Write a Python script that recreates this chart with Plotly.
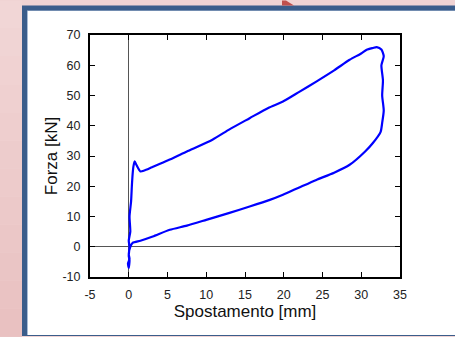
import plotly.graph_objects as go

# Displacement [mm] and force [kN] read along the loop
spostamento = [0.0, 0.1, 0.0, 0.2, 0.1, 0.3, 0.4, 0.5, 0.6, 0.77, 1.0, 1.5, 2.0, 3.0, 5.0, 7.5,
               10.8, 13.0, 15.6, 18.0, 19.9, 22.0, 24.2, 26.5, 28.5, 30.0, 30.7, 31.5, 32.0,
               32.6, 32.9, 32.6, 32.8, 32.7, 32.9, 32.7, 32.5, 31.5, 30.5, 28.5, 26.5, 24.2,
               22.0, 19.9, 18.2, 15.6, 13.0, 10.0, 7.5, 5.3, 3.1, 1.5, 0.5, 0.2, 0.0, 0.1,
               -0.1, 0.0, 0.1, 0.0]
forza = [-3.0, 0.0, 2.0, 5.0, 10.0, 15.0, 20.0, 24.0, 26.5, 28.2, 27.0, 24.9, 25.2, 26.3, 28.5,
         31.5, 35.4, 38.8, 42.5, 45.9, 48.0, 51.2, 54.6, 58.3, 61.8, 63.9, 65.1, 65.7, 66.0,
         65.2, 63.0, 60.0, 55.0, 50.0, 45.0, 41.0, 38.0, 34.3, 31.5, 27.1, 24.5, 22.1,
         19.6, 17.2, 15.5, 13.3, 11.2, 8.9, 7.0, 5.6, 3.4, 2.0, 1.3, 0.0, -2.5, -4.0,
         -5.5, -7.0, -4.5, -3.0]

x_ticks = [-5, 0, 5, 10, 15, 20, 25, 30, 35]
y_ticks = [-10, 0, 10, 20, 30, 40, 50, 60, 70]

W, H = 455, 337
L, R, T, B = 90, 400, 34.5, 277

def px(xp):
    return (xp - L) / (R - L)

def py(yp):
    return (B - yp) / (B - T)

fig = go.Figure()
fig.add_trace(go.Scatter(x=spostamento, y=forza, mode="lines",
                         line=dict(color="#0000ff", width=2.2, shape="spline", smoothing=0.6),
                         showlegend=False, hoverinfo="skip"))

blue = "#3b5d8b"
shapes = []
# left pink gradient strip (lighter at top, darker at bottom)
n = 12
c0 = (241, 214, 214)
c1 = (233, 193, 193)
for i in range(n):
    t = i / (n - 1)
    col = "rgb(%d,%d,%d)" % tuple(round(a + (b - a) * t) for a, b in zip(c0, c1))
    shapes.append(dict(type="rect", xref="paper", yref="paper", x0=px(0), x1=px(22),
                       y0=py(H * (i + 1) / n), y1=py(H * i / n),
                       fillcolor=col, line=dict(width=0), layer="below"))
shapes += [
    # white panel with blue frame
    dict(type="rect", xref="paper", yref="paper", x0=px(22), x1=px(470), y0=py(336), y1=py(5),
         fillcolor=blue, line=dict(width=0), layer="below"),
    dict(type="rect", xref="paper", yref="paper", x0=px(27), x1=px(470), y0=py(335), y1=py(10),
         fillcolor="#a9bcd6", line=dict(width=0), layer="below"),
    dict(type="rect", xref="paper", yref="paper", x0=px(28), x1=px(470), y0=py(335), y1=py(10.5),
         fillcolor="white", line=dict(width=0), layer="below"),
    # small red triangle at top
    dict(type="path", xref="paper", yref="paper",
         path=f"M {px(282)} {py(0)} L {px(286)} {py(0)} L {px(294)} {py(5)} L {px(282)} {py(5)} Z",
         fillcolor="#c0504d", line=dict(width=0), layer="below"),
]

axis_common = dict(showline=True, linecolor="black", linewidth=2, mirror="ticks",
                   ticks="inside", ticklen=5, tickwidth=1, tickcolor="black",
                   showgrid=False, zeroline=True, zerolinecolor="#555555", zerolinewidth=1,
                   ticklabelstandoff=5,
                   tickfont=dict(family="Liberation Sans, Arial, sans-serif", size=12.5, color="#222222"),
                   title_font=dict(family="Liberation Sans, Arial, sans-serif", size=17, color="#111111"))

fig.update_layout(
    width=W, height=H,
    margin=dict(l=L, r=W - R, t=T, b=H - B, pad=0),
    paper_bgcolor="#f0d3d3", plot_bgcolor="white",
    shapes=shapes,
    xaxis=dict(range=[-5, 35], tickvals=x_ticks, ticktext=[str(v) for v in x_ticks],
               title=dict(text="Spostamento [mm]", standoff=3), **axis_common),
    yaxis=dict(range=[-10, 70], tickvals=y_ticks, ticktext=[str(v) for v in y_ticks],
               title=dict(text="Forza [kN]", standoff=0), **axis_common),
)

fig.write_html("out.html")
